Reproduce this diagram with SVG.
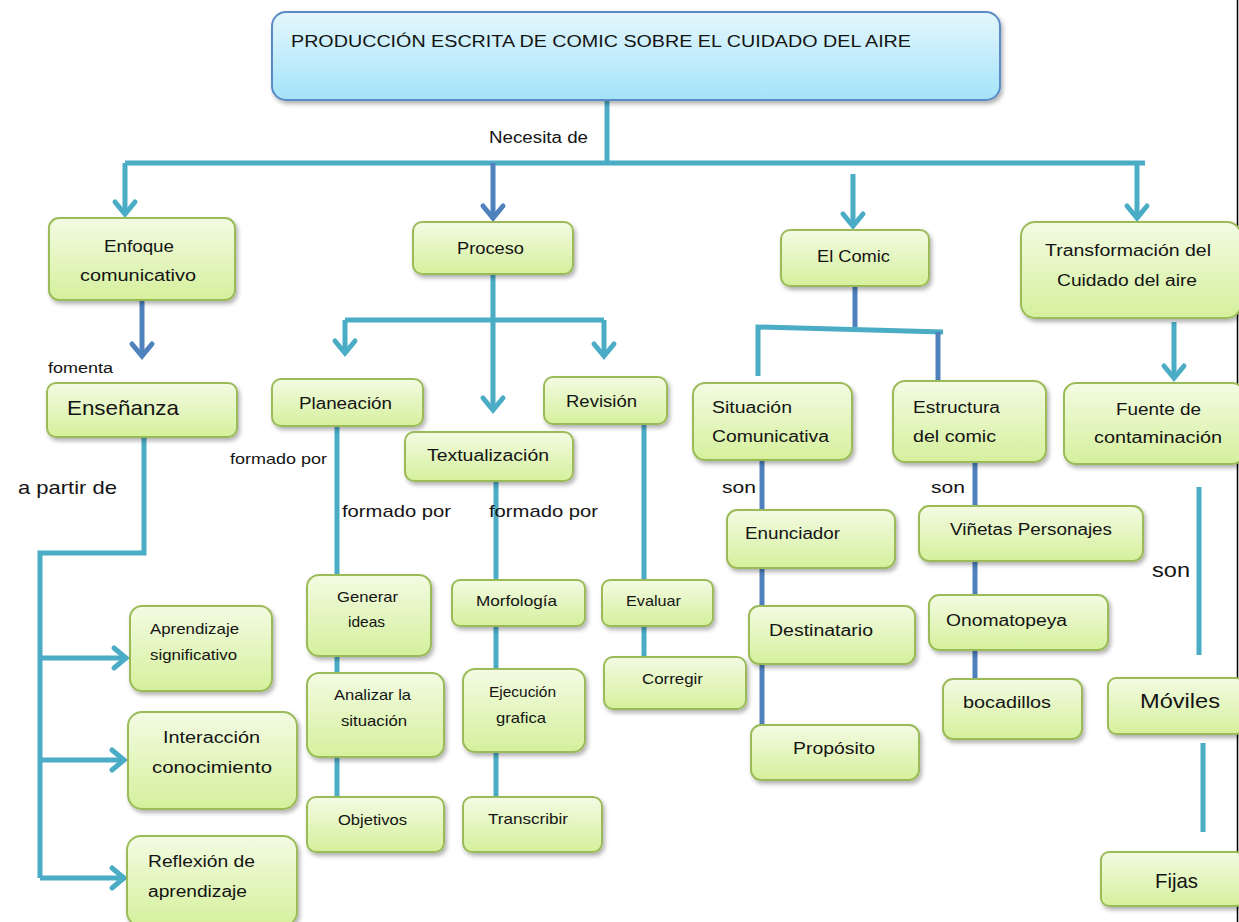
<svg xmlns="http://www.w3.org/2000/svg" width="1239" height="922" viewBox="0 0 1239 922">
<defs>
<linearGradient id="gGreen" x1="0" y1="0" x2="0" y2="1">
<stop offset="0" stop-color="#f3fbe3"/>
<stop offset="1" stop-color="#d5f09c"/>
</linearGradient>
<linearGradient id="gBlue" x1="0" y1="0" x2="0" y2="1">
<stop offset="0" stop-color="#e4f7fd"/>
<stop offset="1" stop-color="#a3e3fa"/>
</linearGradient>
<filter id="sh" x="-10%" y="-10%" width="130%" height="140%">
<feDropShadow dx="2" dy="3" stdDeviation="2" flood-color="#000" flood-opacity="0.3"/>
</filter>
<marker id="aT" markerUnits="userSpaceOnUse" markerWidth="28" markerHeight="28" viewBox="0 0 28 28" refX="21" refY="14" orient="auto">
<path d="M9,4 L21,14 L9,24" fill="none" stroke="#4bacc6" stroke-width="5" stroke-linecap="round"/>
</marker>
<marker id="aB" markerUnits="userSpaceOnUse" markerWidth="28" markerHeight="28" viewBox="0 0 28 28" refX="21" refY="14" orient="auto">
<path d="M9,4 L21,14 L9,24" fill="none" stroke="#4f81bd" stroke-width="5" stroke-linecap="round"/>
</marker>
</defs>
<style>
.n rect{fill:url(#gGreen);stroke:#9bbb59;stroke-width:2;filter:url(#sh)}
.ttl rect{fill:url(#gBlue);stroke:#5b8ac6;stroke-width:2;filter:url(#sh)}
text{font-family:"Liberation Sans",Arial,sans-serif;fill:#141414;font-size:16px}
.s13{font-size:14px}
.s14{font-size:15px}
.s16{font-size:17px}
.s18{font-size:19px}
.s20{font-size:21px}
.cT{fill:none;stroke:#4bacc6;stroke-width:5}
.cB{fill:none;stroke:#4f81bd;stroke-width:5}
</style>
<rect width="1239" height="922" fill="#ffffff"/>
<line x1="1237.5" y1="0" x2="1237.5" y2="922" stroke="#000" stroke-width="1.5"/>

<g id="connectors">
<path class="cT" d="M607,100 V163"/>
<path class="cT" d="M125,163 H1145"/>
<path class="cT" d="M125,163 V214" marker-end="url(#aT)"/>
<path class="cT" d="M853,174 V226" marker-end="url(#aT)"/>
<path class="cT" d="M1137,163 V218" marker-end="url(#aT)"/>
<path class="cB" d="M493,163 V218" marker-end="url(#aB)"/>
<path class="cB" d="M142,300 V356" marker-end="url(#aB)"/>
<path class="cT" d="M493,274 V410" marker-end="url(#aT)"/>
<path class="cT" d="M345,320 H604"/>
<path class="cT" d="M345,320 V353" marker-end="url(#aT)"/>
<path class="cT" d="M604,320 V356" marker-end="url(#aT)"/>
<path class="cT" d="M144,437 V553 H40 V878"/>
<path class="cT" d="M40,658 H126" marker-end="url(#aT)"/>
<path class="cT" d="M40,760 H124" marker-end="url(#aT)"/>
<path class="cT" d="M40,878 H124" marker-end="url(#aT)"/>
<path class="cT" d="M337,426 V796"/>
<path class="cT" d="M496,481 V797"/>
<path class="cT" d="M644,424 V657"/>
<path class="cB" d="M855,286 V327"/>
<path class="cT" d="M758,376 V327 L943,332"/>
<path class="cB" d="M938,332 V381"/>
<path class="cB" d="M762,460 V726"/>
<path class="cB" d="M975,462 V680"/>
<path class="cT" d="M1174,322 V378" marker-end="url(#aT)"/>
<path class="cT" d="M1199,487 V655"/>
<path class="cT" d="M1203,743 V832"/>
</g>

<g id="title" class="ttl">
<rect x="272" y="12" width="728" height="88" rx="14"/>
<text x="291" y="47" font-size="20" textLength="620" lengthAdjust="spacingAndGlyphs">PRODUCCIÓN ESCRITA DE COMIC SOBRE EL CUIDADO DEL AIRE</text>
</g>
<text x="489" y="143" textLength="99" lengthAdjust="spacingAndGlyphs">Necesita de</text>

<g id="enfoque" class="n">
<rect x="49" y="218" width="186" height="82" rx="10"/>
<text x="104" y="252" textLength="70" lengthAdjust="spacingAndGlyphs">Enfoque</text>
<text x="80" y="281" textLength="116" lengthAdjust="spacingAndGlyphs">comunicativo</text>
</g>
<g id="proceso" class="n">
<rect x="413" y="222" width="160" height="52" rx="9"/>
<text x="457" y="254" textLength="67" lengthAdjust="spacingAndGlyphs">Proceso</text>
</g>
<g id="elcomic" class="n">
<rect x="781" y="230" width="148" height="56" rx="9"/>
<text x="817" y="262" textLength="73" lengthAdjust="spacingAndGlyphs">El Comic</text>
</g>
<g id="transformacion" class="n">
<rect x="1021" y="222" width="220" height="96" rx="14"/>
<text x="1045" y="256" textLength="166" lengthAdjust="spacingAndGlyphs">Transformación  del</text>
<text x="1057" y="286" textLength="140" lengthAdjust="spacingAndGlyphs">Cuidado del aire</text>
</g>

<text class="s13" x="48" y="373" textLength="65" lengthAdjust="spacingAndGlyphs">fomenta</text>
<g id="ensenanza" class="n">
<rect x="47" y="383" width="190" height="54" rx="9"/>
<text class="s20" x="67" y="415" textLength="112" lengthAdjust="spacingAndGlyphs">Enseñanza</text>
</g>
<text class="s18" x="18" y="494" textLength="99" lengthAdjust="spacingAndGlyphs">a partir de</text>

<g id="aprendizaje" class="n">
<rect x="130" y="606" width="142" height="85" rx="12"/>
<text class="s14" x="150" y="634" textLength="89" lengthAdjust="spacingAndGlyphs">Aprendizaje</text>
<text class="s14" x="150" y="660" textLength="87" lengthAdjust="spacingAndGlyphs">significativo</text>
</g>
<g id="interaccion" class="n">
<rect x="128" y="712" width="169" height="97" rx="14"/>
<text x="163" y="743" textLength="97" lengthAdjust="spacingAndGlyphs">Interacción</text>
<text x="152" y="773" textLength="120" lengthAdjust="spacingAndGlyphs">conocimiento</text>
</g>
<g id="reflexion" class="n">
<rect x="127" y="836" width="170" height="90" rx="14"/>
<text x="148" y="867" textLength="107" lengthAdjust="spacingAndGlyphs">Reflexión de</text>
<text x="148" y="897" textLength="99" lengthAdjust="spacingAndGlyphs">aprendizaje</text>
</g>

<g id="planeacion" class="n">
<rect x="272" y="379" width="151" height="47" rx="9"/>
<text x="299" y="409" textLength="93" lengthAdjust="spacingAndGlyphs">Planeación</text>
</g>
<g id="revision" class="n">
<rect x="544" y="377" width="123" height="47" rx="9"/>
<text x="566" y="407" textLength="71" lengthAdjust="spacingAndGlyphs">Revisión</text>
</g>
<g id="textualizacion" class="n">
<rect x="405" y="432" width="168" height="49" rx="9"/>
<text x="427" y="461" textLength="122" lengthAdjust="spacingAndGlyphs">Textualización</text>
</g>
<text class="s14" x="230" y="464" textLength="97" lengthAdjust="spacingAndGlyphs">formado por</text>
<text class="s16" x="342" y="517" textLength="109" lengthAdjust="spacingAndGlyphs">formado por</text>
<text class="s16" x="489" y="517" textLength="109" lengthAdjust="spacingAndGlyphs">formado por</text>

<g id="generar" class="n">
<rect x="307" y="575" width="124" height="81" rx="12"/>
<text class="s14" x="337" y="602" textLength="61" lengthAdjust="spacingAndGlyphs">Generar</text>
<text class="s14" x="348" y="627" textLength="37" lengthAdjust="spacingAndGlyphs">ideas</text>
</g>
<g id="analizar" class="n">
<rect x="307" y="673" width="137" height="84" rx="12"/>
<text class="s14" x="334" y="700" textLength="77" lengthAdjust="spacingAndGlyphs">Analizar la</text>
<text class="s14" x="341" y="726" textLength="66" lengthAdjust="spacingAndGlyphs">situación</text>
</g>
<g id="objetivos" class="n">
<rect x="307" y="797" width="137" height="55" rx="9"/>
<text class="s14" x="338" y="825" textLength="69" lengthAdjust="spacingAndGlyphs">Objetivos</text>
</g>

<g id="morfologia" class="n">
<rect x="452" y="580" width="133" height="46" rx="8"/>
<text class="s14" x="476" y="606" textLength="81" lengthAdjust="spacingAndGlyphs">Morfología</text>
</g>
<g id="ejecucion" class="n">
<rect x="463" y="669" width="122" height="83" rx="12"/>
<text class="s14" x="489" y="697" textLength="67" lengthAdjust="spacingAndGlyphs">Ejecución</text>
<text class="s14" x="496" y="723" textLength="50" lengthAdjust="spacingAndGlyphs">grafica</text>
</g>
<g id="transcribir" class="n">
<rect x="463" y="797" width="139" height="55" rx="9"/>
<text class="s14" x="488" y="824" textLength="80" lengthAdjust="spacingAndGlyphs">Transcribir</text>
</g>

<g id="evaluar" class="n">
<rect x="602" y="580" width="111" height="46" rx="8"/>
<text class="s14" x="626" y="606" textLength="55" lengthAdjust="spacingAndGlyphs">Evaluar</text>
</g>
<g id="corregir" class="n">
<rect x="604" y="657" width="142" height="52" rx="9"/>
<text class="s14" x="642" y="684" textLength="61" lengthAdjust="spacingAndGlyphs">Corregir</text>
</g>

<g id="situacion" class="n">
<rect x="693" y="383" width="159" height="77" rx="12"/>
<text x="712" y="413" textLength="80" lengthAdjust="spacingAndGlyphs">Situación</text>
<text x="712" y="442" textLength="117" lengthAdjust="spacingAndGlyphs">Comunicativa</text>
</g>
<g id="estructura" class="n">
<rect x="893" y="381" width="153" height="81" rx="12"/>
<text x="913" y="413" textLength="87" lengthAdjust="spacingAndGlyphs">Estructura</text>
<text x="913" y="442" textLength="83" lengthAdjust="spacingAndGlyphs">del comic</text>
</g>
<text class="s16" x="722" y="493" textLength="34" lengthAdjust="spacingAndGlyphs">son</text>
<text class="s16" x="931" y="493" textLength="34" lengthAdjust="spacingAndGlyphs">son</text>

<g id="enunciador" class="n">
<rect x="727" y="510" width="168" height="58" rx="10"/>
<text x="745" y="539" textLength="95" lengthAdjust="spacingAndGlyphs">Enunciador</text>
</g>
<g id="destinatario" class="n">
<rect x="749" y="606" width="166" height="58" rx="10"/>
<text x="769" y="636" textLength="104" lengthAdjust="spacingAndGlyphs">Destinatario</text>
</g>
<g id="proposito" class="n">
<rect x="751" y="725" width="168" height="55" rx="10"/>
<text x="793" y="754" textLength="82" lengthAdjust="spacingAndGlyphs">Propósito</text>
</g>

<g id="vinetas" class="n">
<rect x="919" y="506" width="224" height="55" rx="10"/>
<text x="950" y="535" textLength="162" lengthAdjust="spacingAndGlyphs">Viñetas Personajes</text>
</g>
<g id="onomatopeya" class="n">
<rect x="929" y="595" width="179" height="55" rx="10"/>
<text x="946" y="626" textLength="121" lengthAdjust="spacingAndGlyphs">Onomatopeya</text>
</g>
<g id="bocadillos" class="n">
<rect x="943" y="679" width="139" height="60" rx="10"/>
<text x="963" y="708" textLength="88" lengthAdjust="spacingAndGlyphs">bocadillos</text>
</g>

<g id="fuente" class="n">
<rect x="1064" y="383" width="180" height="81" rx="12"/>
<text x="1116" y="415" textLength="85" lengthAdjust="spacingAndGlyphs">Fuente de</text>
<text x="1094" y="443" textLength="128" lengthAdjust="spacingAndGlyphs">contaminación</text>
</g>
<text class="s20" x="1152" y="577" textLength="38" lengthAdjust="spacingAndGlyphs">son</text>
<g id="moviles" class="n">
<rect x="1108" y="678" width="136" height="56" rx="8"/>
<text class="s20" x="1140" y="708" textLength="80" lengthAdjust="spacingAndGlyphs">Móviles</text>
</g>
<g id="fijas" class="n">
<rect x="1101" y="852" width="143" height="54" rx="8"/>
<text class="s20" x="1155" y="888" textLength="43" lengthAdjust="spacingAndGlyphs">Fijas</text>
</g>
</svg>
